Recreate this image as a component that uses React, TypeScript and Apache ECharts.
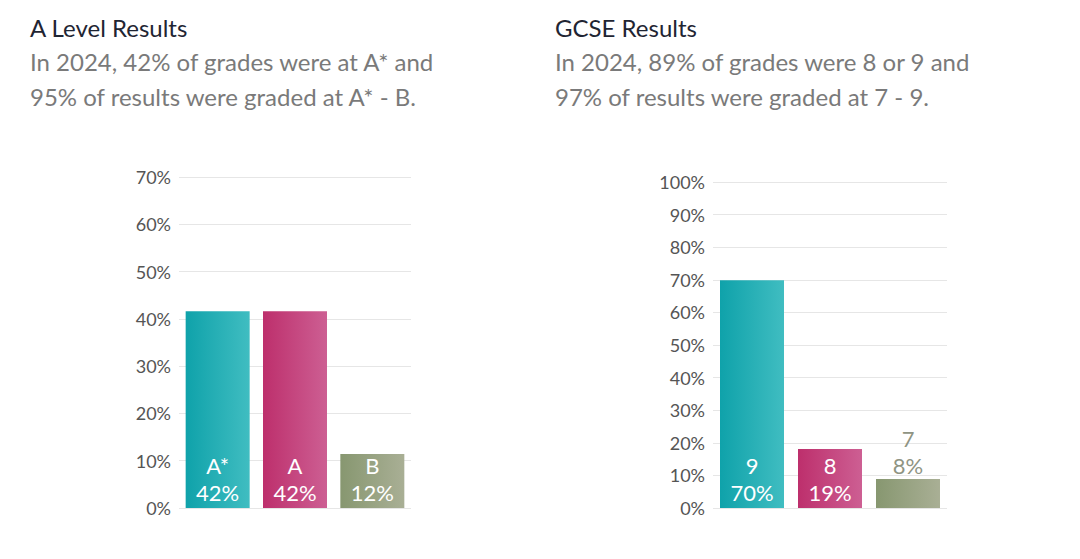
import React, { useEffect, useRef } from "react";
import * as echarts from "echarts";

const aLevelCategories = ["A*", "A", "B"];
const aLevelValues = [41.6, 41.6, 11.4];
const aLevelLabels = ["42%", "42%", "12%"];

const gcseCategories = ["9", "8", "7"];
const gcseValues = [69.9, 18.1, 8.9];
const gcseLabels = ["70%", "19%", "8%"];

const aLevelTicks = { min: 0, max: 70, interval: 10 };
const gcseTicks = { min: 0, max: 100, interval: 10 };

const FONT = "Lato, 'Open Sans', sans-serif";

const grad = (a: string, b: string) =>
  new echarts.graphic.LinearGradient(0, 0, 1, 0, [
    { offset: 0, color: a },
    { offset: 1, color: b },
  ]);

const barColors = [
  ["#0fa2aa", "#40bdc1"],
  ["#bd2f6c", "#cd5f93"],
  ["#879770", "#a9af95"],
];

export default function App() {
  const ref = useRef<HTMLDivElement>(null);
  useEffect(() => {
    if (!ref.current) return;
    const chart = echarts.init(ref.current, null, { renderer: "svg" });

    const makeData = (cats: string[], vals: number[], labels: string[], outsideIdx: number) =>
      vals.map((v, i) => ({
        value: v,
        itemStyle: { color: grad(barColors[i][0], barColors[i][1]) },
        label:
          i === outsideIdx
            ? {
                show: true,
                position: "top",
                distance: 0,
                color: "#8f9483",
                formatter: `${cats[i]}\n${labels[i]}`,
              }
            : {
                show: true,
                position: "insideBottom",
                distance: 2,
                color: "#ffffff",
                formatter: `${cats[i]}\n${labels[i]}`,
              },
      }));

    const yAxisCommon = {
      type: "value" as const,
      axisLine: { show: false },
      axisTick: { show: false },
      axisLabel: {
        formatter: "{value}%",
        color: "#555555",
        fontSize: 18,
        fontFamily: FONT,
        margin: 8,
      },
      splitLine: { lineStyle: { color: "#e6e6e6", width: 1 } },
    };

    const xAxisCommon = {
      type: "category" as const,
      axisLine: { show: false },
      axisTick: { show: false },
      axisLabel: { show: false },
    };

    const labelStyle = {
      fontSize: 22,
      lineHeight: 27,
      fontFamily: FONT,
    };

    const titleStyle = { fontFamily: FONT, fontSize: 24, fontWeight: "normal", color: "#1f2533" };
    const subStyle = { fontFamily: FONT, fontSize: 24, color: "#7a7a7a", lineHeight: 35 };

    chart.setOption({
      animation: false,
      backgroundColor: "#ffffff",
      title: [
        {
          text: "A Level Results",
          subtext: "In 2024, 42% of grades were at A* and\n95% of results were graded at A* - B.",
          left: 25,
          top: 10,
          itemGap: 5,
          textStyle: titleStyle,
          subtextStyle: subStyle,
        },
        {
          text: "GCSE Results",
          subtext: "In 2024, 89% of grades were 8 or 9 and\n97% of results were graded at 7 - 9.",
          left: 550,
          top: 10,
          itemGap: 5,
          textStyle: titleStyle,
          subtextStyle: subStyle,
        },
      ],
      grid: [
        { left: 179, width: 232, top: 177, bottom: 51 },
        { left: 713, width: 234, top: 182, bottom: 51 },
      ],
      xAxis: [
        { ...xAxisCommon, gridIndex: 0, data: aLevelCategories },
        { ...xAxisCommon, gridIndex: 1, data: gcseCategories },
      ],
      yAxis: [
        { ...yAxisCommon, gridIndex: 0, ...aLevelTicks },
        { ...yAxisCommon, gridIndex: 1, ...gcseTicks },
      ],
      series: [
        {
          type: "bar",
          xAxisIndex: 0,
          yAxisIndex: 0,
          barWidth: 64,
          label: labelStyle,
          data: makeData(aLevelCategories, aLevelValues, aLevelLabels, -1),
        },
        {
          type: "bar",
          xAxisIndex: 1,
          yAxisIndex: 1,
          barWidth: 64,
          label: labelStyle,
          data: makeData(gcseCategories, gcseValues, gcseLabels, 2),
        },
      ],
    });
    return () => chart.dispose();
  }, []);

  return (
    <div
      ref={ref}
      style={{ position: "fixed", left: 0, top: 0, width: 1080, height: 559 }}
    />
  );
}
